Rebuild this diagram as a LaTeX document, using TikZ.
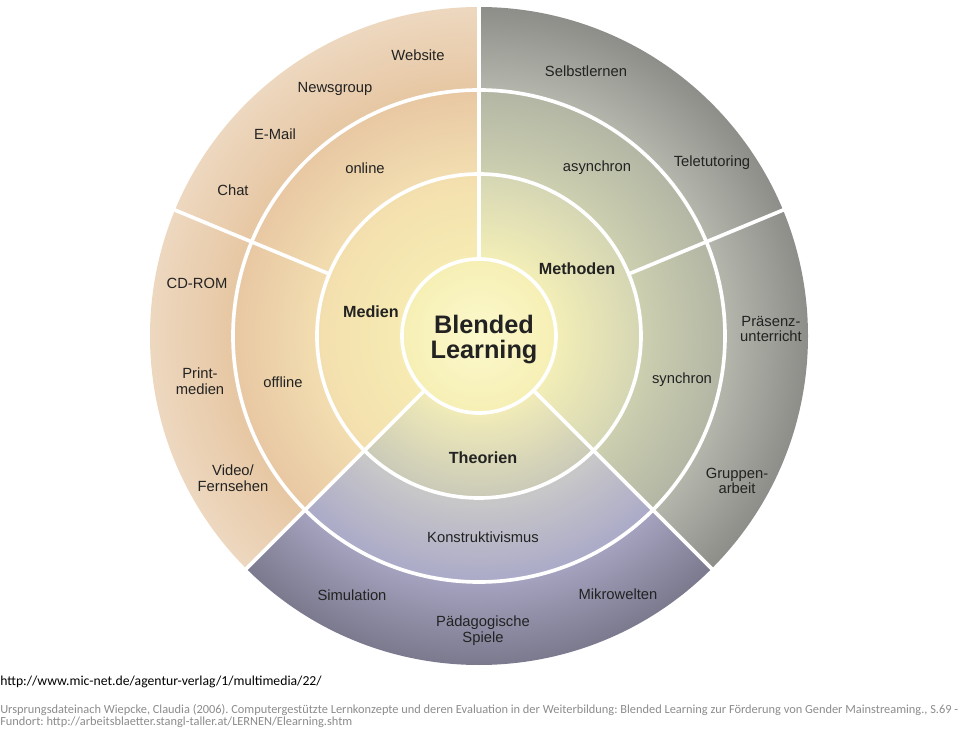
\documentclass[tikz,border=0pt]{standalone}
\usepackage{fontspec}
\setmainfont{Liberation Sans}
\newfontfamily\srcfont{Carlito}
\frenchspacing

\definecolor{core}{HTML}{FCF9CC}
\definecolor{coreedge}{HTML}{F6EFB5}
\definecolor{medA}{HTML}{F6EBB2}
\definecolor{medB}{HTML}{F3DFAE}
\definecolor{medC}{HTML}{F2DDB0}
\definecolor{medD}{HTML}{E8C8A3}
\definecolor{medE}{HTML}{E7C7A3}
\definecolor{medF}{HTML}{EDD8C0}
\definecolor{metA}{HTML}{F3EEB7}
\definecolor{metB}{HTML}{D5D6B4}
\definecolor{metC}{HTML}{CDCFB0}
\definecolor{metD}{HTML}{B3B6A4}
\definecolor{metE}{HTML}{B4B6AC}
\definecolor{metF}{HTML}{8C8C88}
\definecolor{theA}{HTML}{F1EBB8}
\definecolor{theB}{HTML}{CACAB8}
\definecolor{theC}{HTML}{C9C8C8}
\definecolor{theD}{HTML}{ABAAC8}
\definecolor{theE}{HTML}{A4A2BE}
\definecolor{theF}{HTML}{7A788C}
\definecolor{ink}{HTML}{222222}
\definecolor{srcgray}{HTML}{8C8C8C}

\pgfdeclareradialshading{medienshade}{\pgfpointorigin}{%
  color(0cm)=(core); color(1.9cm)=(coreedge);
  color(1.95cm)=(medA); color(4.03cm)=(medB);
  color(4.07cm)=(medC); color(6.13cm)=(medD);
  color(6.17cm)=(medE); color(8.3cm)=(medF)}
\pgfdeclareradialshading{methodenshade}{\pgfpointorigin}{%
  color(0cm)=(core); color(1.9cm)=(coreedge);
  color(1.95cm)=(metA); color(4.03cm)=(metB);
  color(4.07cm)=(metC); color(6.13cm)=(metD);
  color(6.17cm)=(metE); color(8.3cm)=(metF)}
\pgfdeclareradialshading{theorienshade}{\pgfpointorigin}{%
  color(0cm)=(core); color(1.9cm)=(coreedge);
  color(1.95cm)=(theA); color(4.03cm)=(theB);
  color(4.07cm)=(theC); color(6.13cm)=(theD);
  color(6.17cm)=(theE); color(8.3cm)=(theF)}

\begin{document}
\begin{tikzpicture}[
  lbl/.style={text=ink, align=center, font=\fontsize{10.5}{11.2}\selectfont},
  hd/.style={text=ink, font=\fontsize{11.5}{13}\selectfont\bfseries},
  sep/.style={white, line width=2.6pt},
  src/.style={anchor=west, inner sep=0pt, font=\srcfont\fontsize{8.8}{10}\selectfont}]
  \fill[white] (-11.975,-9.825) rectangle (12.025,8.4);
  \useasboundingbox (-11.975,-9.825) rectangle (12.025,8.4);

  % the three sectors
  \foreach \s/\a/\b in {medienshade/90/225, methodenshade/-45/90, theorienshade/-135/-45} {
    \begin{scope}
      \clip (0,0) -- (\a:8.225) arc[start angle=\a, end angle=\b, radius=8.225] -- cycle;
      \node[inner sep=0pt] at (0,0) {\pgfuseshading{\s}};
    \end{scope}}

  % white rings and spokes
  \foreach \r in {1.925,4.05,6.15}
    \draw[sep] (0,0) circle (\r);
  \foreach \a/\r in {90/1.925, -45/1.925, -135/1.925, 22.5/4.05, 157.5/4.05}
    \draw[sep] (\a:\r) -- (\a:8.3);

  \node[align=center, text=ink, font=\fontsize{18}{17.5}\selectfont\bfseries] (bl) at (0.125,-0.09) {Blended\\Learning};

  \node[hd] (medien) at (-2.7,0.6) {Medien};
  \node[hd] (methoden) at (2.45,1.675) {Methoden};
  \node[hd] (theorien) at (0.1,-3.05) {Theorien};

  \node[lbl] (online) at (-2.85,4.2) {online};
  \node[lbl] (offline) at (-4.9,-1.15) {offline};
  \node[lbl] (async) at (2.95,4.2) {asynchron};
  \node[lbl] (sync) at (5.075,-1.1) {synchron};
  \node[lbl] (konstr) at (0.1,-5.025) {Konstruktivismus};

  \node[lbl] (website) at (-1.525,7.025) {Website};
  \node[lbl] (news) at (-3.6,6.175) {Newsgroup};
  \node[lbl] (email) at (-5.1,5.05) {E-Mail};
  \node[lbl] (chat) at (-6.15,3.65) {Chat};
  \node[lbl] (cdrom) at (-7.05,1.325) {CD-ROM};
  \node[lbl] (print) at (-6.975,-1.125) {Print-\\medien};
  \node[lbl] (video) at (-6.15,-3.55) {Video/\\Fernsehen};
  \node[lbl] (selbst) at (2.675,6.625) {Selbstlernen};
  \node[lbl] (tele) at (5.825,4.325) {Teletutoring};
  \node[lbl] (praesenz) at (7.3,0.175) {Präsenz-\\unterricht};
  \node[lbl] (gruppen) at (6.45,-3.625) {Gruppen-\\arbeit};
  \node[lbl] (sim) at (-3.175,-6.475) {Simulation};
  \node[lbl] (mikro) at (3.475,-6.45) {Mikrowelten};
  \node[lbl] (paed) at (0.1,-7.375) {Pädagogische\\Spiele};

  % source lines
  \node[src, font=\srcfont\fontsize{9.75}{11}\selectfont] (url) at (-11.975,-8.65) {http://www.mic-net.de/agentur-verlag/1/multimedia/22/};
  \node[src, text=srcgray] (ref) at (-11.975,-9.35) {Ursprungsdateinach Wiepcke, Claudia (2006). Computergestützte Lernkonzepte und deren Evaluation in der Weiterbildung: Blended Learning zur Förderung von Gender Mainstreaming., S.69 -};
  \node[src, text=srcgray] (fund) at (-11.975,-9.65) {Fundort: http://arbeitsblaetter.stangl-taller.at/LERNEN/Elearning.shtm};
\end{tikzpicture}
\end{document}
